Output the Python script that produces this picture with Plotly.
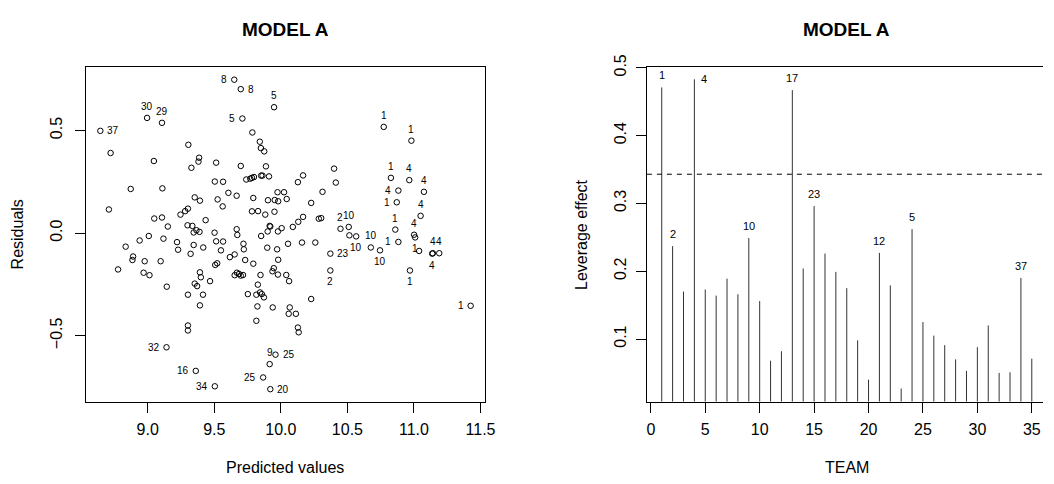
import plotly.graph_objects as go

# ---------------- Left panel data: residuals vs predicted ----------------
pred_unlab = [9.786, 9.305, 9.842, 9.850, 9.875, 8.721, 9.046, 9.386, 9.381, 9.514,
              9.699, 9.888, 9.328, 10.400, 10.167, 9.911, 9.852, 9.862, 9.798, 9.783,
              9.770, 9.740, 9.504, 9.566, 10.128, 10.413, 8.872, 9.110, 9.606, 9.668,
              9.975, 10.024, 10.313, 9.353, 9.392, 9.525, 9.793, 9.903, 9.954, 9.980,
              10.044, 10.228, 9.563, 9.302, 9.281, 8.708, 9.783, 9.829, 9.952, 9.883,
              9.246, 9.049, 9.107, 9.435, 10.167, 10.131, 10.285, 10.303, 9.151, 9.299,
              9.335, 9.366, 9.389, 9.345, 9.502, 9.668, 9.673, 10.090, 10.006, 9.916,
              9.921, 9.901, 9.978, 9.008, 10.515, 9.852, 8.939, 9.118, 9.220, 9.228,
              9.345, 9.417, 9.514, 9.566, 9.719, 9.722, 9.898, 9.972, 10.054, 10.159,
              10.259, 11.039, 8.834, 8.890, 8.885, 9.322, 9.550, 9.617, 9.653, 9.732,
              9.980, 8.977, 9.097, 8.777, 9.507, 9.522, 9.793, 9.947, 8.969, 9.013,
              9.392, 9.399, 9.670, 9.686, 9.699, 9.653, 9.716, 9.937, 9.978, 9.847,
              10.041, 10.062, 9.468, 9.353, 9.371, 9.143, 9.827, 9.302, 9.415, 9.752,
              9.816, 9.844, 9.857, 9.873, 10.228, 9.392, 9.824, 9.939, 10.067, 10.059,
              10.113, 9.816, 9.302, 9.302, 10.128, 10.134]
resid_unlab = [0.490, 0.430, 0.445, 0.414, 0.398, 0.390, 0.351, 0.367, 0.348, 0.343,
               0.327, 0.325, 0.318, 0.314, 0.281, 0.276, 0.280, 0.280, 0.273, 0.269,
               0.265, 0.261, 0.251, 0.250, 0.248, 0.246, 0.215, 0.218, 0.196, 0.182,
               0.199, 0.199, 0.201, 0.174, 0.158, 0.164, 0.171, 0.160, 0.161, 0.155,
               0.166, 0.147, 0.130, 0.119, 0.107, 0.115, 0.106, 0.107, 0.104, 0.090,
               0.090, 0.071, 0.076, 0.063, 0.079, 0.055, 0.070, 0.073, 0.032, 0.038,
               0.035, 0.014, 0.006, 0.003, 0.002, 0.019, -0.009, 0.030, 0.024, 0.035,
               0.032, 0.008, 0.008, -0.014, -0.011, -0.014, -0.036, -0.027, -0.044, -0.081,
               -0.058, -0.070, -0.040, -0.041, -0.052, -0.079, -0.071, -0.079, -0.052, -0.046,
               -0.046, -0.087, -0.066, -0.114, -0.131, -0.101, -0.084, -0.117, -0.104, -0.131,
               -0.130, -0.137, -0.137, -0.177, -0.155, -0.147, -0.149, -0.171, -0.193, -0.205,
               -0.191, -0.215, -0.193, -0.199, -0.207, -0.205, -0.204, -0.186, -0.202, -0.204,
               -0.204, -0.234, -0.234, -0.246, -0.258, -0.261, -0.251, -0.300, -0.300, -0.297,
               -0.300, -0.289, -0.297, -0.313, -0.321, -0.352, -0.357, -0.362, -0.362, -0.393,
               -0.393, -0.427, -0.450, -0.474, -0.460, -0.483]

pred_lab = [9.650, 9.699, 9.949, 8.995, 9.107, 9.711, 8.644, 10.773, 10.981, 10.827,
            10.965, 11.075, 10.883, 10.871, 11.050, 10.448, 10.510, 10.860, 11.001, 11.009,
            10.676, 10.566, 10.883, 11.142, 11.190, 11.137, 10.745, 10.372, 10.372, 10.970,
            11.426, 9.141, 9.960, 9.916, 9.361, 9.867, 9.504, 9.921]
resid_lab = [0.747, 0.701, 0.613, 0.561, 0.537, 0.558, 0.498, 0.517, 0.450, 0.269,
             0.258, 0.201, 0.207, 0.150, 0.084, 0.021, 0.030, 0.017, -0.008, -0.021,
             -0.070, -0.016, -0.043, -0.098, -0.098, -0.100, -0.084, -0.100, -0.182, -0.182,
             -0.354, -0.556, -0.592, -0.638, -0.671, -0.703, -0.746, -0.760]
lab_text = ["8", "8", "5", "30", "29", "5", "37", "1", "1", "1",
            "4", "4", "4", "1", "4", "2", "10", "1", "4", "1",
            "10", "10", "1", "4", "4", "4", "10", "23", "2", "1",
            "1", "32", "25", "9", "16", "25", "34", "20"]
lab_pos = ["l", "r", "t", "t", "t", "l", "r", "t", "t", "t",
           "t", "t", "l", "l", "t", "t", "t", "t", "t", "b",
           "t", "b", "l", "t", "t", "b", "b", "r", "b", "b",
           "l", "l", "r", "t", "l", "l", "l", "r"]

# ---------------- Right panel data: leverage by team index ----------------
team_idx = list(range(1, 36))
leverage = [0.471, 0.237, 0.170, 0.483, 0.173, 0.164, 0.189, 0.166, 0.249, 0.156,
            0.068, 0.082, 0.467, 0.204, 0.296, 0.226, 0.199, 0.175, 0.098, 0.040,
            0.227, 0.179, 0.027, 0.262, 0.125, 0.105, 0.091, 0.070, 0.053, 0.088,
            0.120, 0.050, 0.051, 0.190, 0.071]
lev_lab_idx = [1, 2, 4, 9, 13, 15, 21, 24, 34]
lev_lab_text = ["1", "2", "4", "10", "17", "23", "12", "5", "37"]
lev_lab_pos = ["t", "t", "r", "t", "t", "t", "t", "t", "t"]
lev_threshold = 0.343

FONT = "Liberation Sans, Arial, Helvetica, sans-serif"
W, H = 1054, 484

fig = go.Figure()

# left scatter
fig.add_trace(go.Scatter(
    x=pred_unlab + pred_lab, y=resid_unlab + resid_lab, mode="markers",
    marker=dict(symbol="circle-open", size=5.5, color="black", line=dict(width=1, color="black")),
    xaxis="x", yaxis="y", hoverinfo="skip"))

# right stems
sx, sy = [], []
for i, v in zip(team_idx, leverage):
    sx += [i, i, None]
    sy += [0, v, None]
fig.add_trace(go.Scatter(x=sx, y=sy, mode="lines", line=dict(color="#333333", width=1),
                         xaxis="x2", yaxis="y2", hoverinfo="skip"))

annotations = []
shift = {"l": dict(xanchor="right", yanchor="middle", xshift=-5, yshift=0),
         "r": dict(xanchor="left", yanchor="middle", xshift=5, yshift=0),
         "t": dict(xanchor="center", yanchor="bottom", xshift=0, yshift=4),
         "b": dict(xanchor="center", yanchor="top", xshift=0, yshift=-4)}
for x, y, t, p in zip(pred_lab, resid_lab, lab_text, lab_pos):
    annotations.append(dict(x=x, y=y, xref="x", yref="y", text=t, showarrow=False,
                            font=dict(family=FONT, size=10, color="black"), **shift[p]))

lev_map = dict(zip(team_idx, leverage))
for i, t, p in zip(lev_lab_idx, lev_lab_text, lev_lab_pos):
    s = dict(shift[p])
    annotations.append(dict(x=i, y=lev_map[i], xref="x2", yref="y2", text=t, showarrow=False,
                            font=dict(family=FONT, size=11, color="black"), **s))

# titles and axis labels
def px(x):
    return x / W

def py(y):
    return 1 - y / H

left_c = (86.7 + 490) / 2
right_c = (653.7 + 1058) / 2
annotations += [
    dict(x=px(left_c), y=py(17.5), xref="paper", yref="paper", text="<b>MODEL A</b>",
         showarrow=False, font=dict(family=FONT, size=19, color="black"), xanchor="center", yanchor="middle"),
    dict(x=px(right_c), y=py(17.5), xref="paper", yref="paper", text="<b>MODEL A</b>",
         showarrow=False, font=dict(family=FONT, size=19, color="black"), xanchor="center", yanchor="middle"),
    dict(x=px(left_c), y=py(467), xref="paper", yref="paper", text="Predicted values",
         showarrow=False, font=dict(family=FONT, size=16, color="black"), xanchor="center", yanchor="middle"),
    dict(x=px(right_c), y=py(467), xref="paper", yref="paper", text="TEAM",
         showarrow=False, font=dict(family=FONT, size=16, color="black"), xanchor="center", yanchor="middle"),
    dict(x=px(17.5), y=py(227.75), xref="paper", yref="paper", text="Residuals", textangle=-90,
         showarrow=False, font=dict(family=FONT, size=16, color="black"), xanchor="center", yanchor="middle"),
    dict(x=px(587), y=py(227.75), xref="paper", yref="paper", text="Leverage effect", textangle=-90,
         showarrow=False, font=dict(family=FONT, size=16, color="black"), xanchor="center", yanchor="middle"),
]

ydom = [py(399.5), py(56)]
axis_common = dict(showgrid=False, zeroline=False, showline=True, linecolor="black", linewidth=1,
                   ticks="outside", ticklen=10, tickwidth=1, tickcolor="black",
                   tickfont=dict(family=FONT, size=16, color="black"))

fig.update_layout(
    width=W, height=H, margin=dict(l=0, r=0, t=0, b=0),
    paper_bgcolor="white", plot_bgcolor="white", showlegend=False,
    xaxis=dict(domain=[px(86.7), px(490)], range=[8.5346, 11.533], anchor="y", mirror=True,
               tickvals=[9.0, 9.5, 10.0, 10.5, 11.0, 11.5], ticklabelstandoff=3,
               ticktext=["9.0", "9.5", "10.0", "10.5", "11.0", "11.5"], **axis_common),
    yaxis=dict(domain=ydom, range=[-0.8205, 0.8107], anchor="x", mirror=True, tickangle=-90,
               ticklabelstandoff=6,
               tickvals=[-0.5, 0.0, 0.5], ticktext=["\u22120.5", "0.0", "0.5"], **axis_common),
    xaxis2=dict(domain=[px(653.7), 1.0], range=[-0.364, 36.03], anchor="y2", mirror=True,
                ticklabelstandoff=3,
                tickvals=[0, 5, 10, 15, 20, 25, 30, 35], **axis_common),
    yaxis2=dict(domain=ydom, range=[0.0077, 0.5017], anchor="x2", mirror=False, tickangle=-90,
                ticklabelstandoff=3,
                tickvals=[0.1, 0.2, 0.3, 0.4, 0.5], ticktext=["0.1", "0.2", "0.3", "0.4", "0.5"],
                **axis_common),
    annotations=annotations,
    shapes=[dict(type="line", xref="x2 domain", x0=0, x1=1, yref="y2", y0=lev_threshold, y1=lev_threshold,
                 line=dict(color="black", width=1, dash="5px,5px"))],
)

fig.write_html("out.html")
